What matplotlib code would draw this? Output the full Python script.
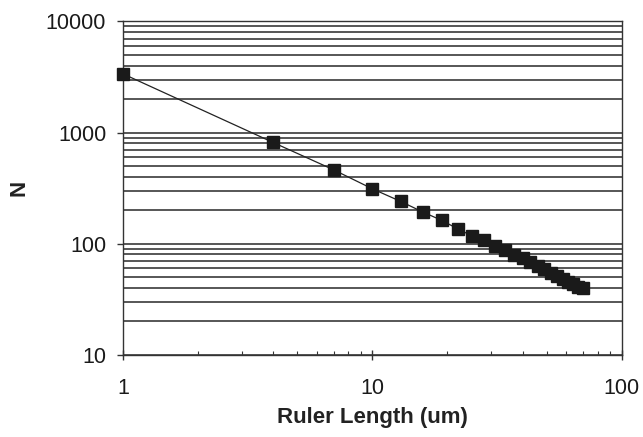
import numpy as np
import matplotlib
matplotlib.use("Agg")
import matplotlib.pyplot as plt
from matplotlib.ticker import LogLocator, NullFormatter

plt.rcParams['font.family'] = ['Liberation Sans', 'DejaVu Sans']

# ruler length (um) and count N
ruler = [1, 4, 7, 10, 13, 16, 19, 22, 25, 28, 31, 34, 37, 40, 43, 46,
         49, 52, 55, 58, 61, 64, 67, 70]
count = [3380, 815, 462, 312, 240, 192, 162, 136, 118, 107, 96, 87, 79,
         74, 68, 63, 59, 55, 51, 48, 45, 43, 41, 40]

xticks = [1, 10, 100]
yticks = [10, 100, 1000, 10000]

fig = plt.figure(figsize=(6.43, 4.37), dpi=100)
ax = fig.add_axes([0.191, 0.188, 0.776, 0.763])

ax.plot(ruler, count, color='#222222', lw=0.9, marker='s', ms=8,
        mfc='#1a1a1a', mec='#1a1a1a', zorder=3, clip_on=False)

ax.set_xscale('log')
ax.set_yscale('log')
ax.set_xlim(1, 100)
ax.set_ylim(10, 10000)

ax.set_xticks(xticks)
ax.set_xticklabels([str(t) for t in xticks])
ax.set_yticks(yticks)
ax.set_yticklabels([str(t) for t in yticks])
ax.xaxis.set_minor_locator(LogLocator(base=10, subs=np.arange(2, 10)))
ax.xaxis.set_minor_formatter(NullFormatter())
ax.yaxis.set_minor_locator(LogLocator(base=10, subs=np.arange(2, 10)))
ax.yaxis.set_minor_formatter(NullFormatter())

ax.grid(True, which='both', axis='y', color='#3a3a3a', lw=1.2)
ax.set_axisbelow(True)

ax.tick_params(axis='x', which='major', direction='inout', length=7,
               width=1, labelsize=15.5, pad=13, color='#333333',
               labelcolor='#1a1a1a')
ax.tick_params(axis='x', which='minor', direction='in', length=3,
               width=0.8, color='#333333')
ax.tick_params(axis='y', which='major', direction='out', length=4,
               width=1, labelsize=15.5, pad=8, color='#333333',
               labelcolor='#1a1a1a')
ax.tick_params(axis='y', which='minor', length=0)

for s in ax.spines.values():
    s.set_color('#333333')
    s.set_linewidth(1.0)

ax.set_xlabel('Ruler Length (um)', fontsize=16, fontweight='bold',
              labelpad=6, color='#222222')
ax.set_ylabel('N', fontsize=16, fontweight='bold', labelpad=12,
              color='#222222')

fig.savefig('out.png', dpi=100)
